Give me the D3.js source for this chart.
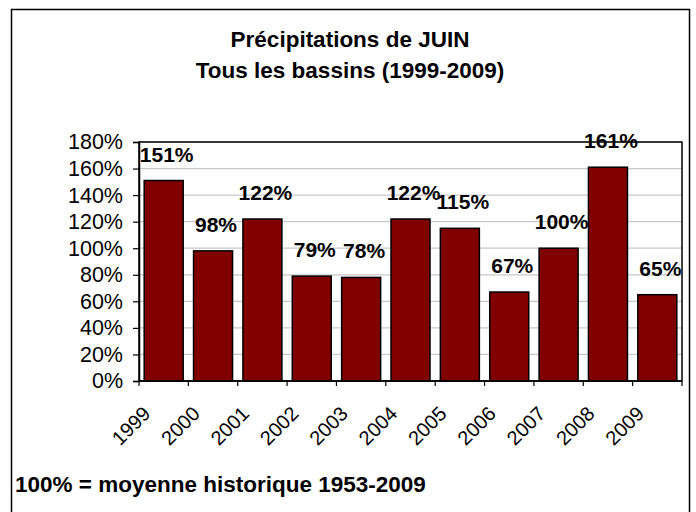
<!DOCTYPE html>
<html>
<head>
<meta charset="utf-8">
<script src="https://cdn.jsdelivr.net/npm/d3@7"></script>
<style>
  body { margin: 0; background: #fff; }
  text { font-family: Arial, "Liberation Sans", sans-serif; }
</style>
</head>
<body>
<div class="content"></div>
<script>
// data
var years = ["1999", "2000", "2001", "2002", "2003", "2004", "2005", "2006", "2007", "2008", "2009"];
var pct = [151, 98, 122, 79, 78, 122, 115, 67, 100, 161, 65];
var yTicks = [0, 20, 40, 60, 80, 100, 120, 140, 160, 180];
var titleLines = ["Précipitations de JUIN", "Tous les bassins (1999-2009)"];
var note = "100% = moyenne historique 1953-2009";

var W = 696, H = 512;
var plot = {left: 139, right: 682, top: 142, bottom: 381};

var svg = d3.select('.content').append("svg").attr("width", W).attr("height", H);

// outer frame
svg.append("rect").attr("x", 11.5).attr("y", 9.5).attr("width", 678).attr("height", 520)
  .attr("fill", "#fff").attr("stroke", "#000").attr("stroke-width", 1.5);

var x = d3.scaleBand().domain(years).range([plot.left, plot.right]).paddingInner(0.21).paddingOuter(0.105);
var y = d3.scaleLinear().domain([0, 180]).range([plot.bottom, plot.top]);

// gridlines
svg.append("g").selectAll("line").data(yTicks.slice(1)).enter().append("line")
  .attr("x1", plot.left).attr("x2", plot.right)
  .attr("y1", function(d){ return y(d); }).attr("y2", function(d){ return y(d); })
  .attr("stroke", "#c8c8c8").attr("stroke-width", 1.2);

// plot frame
svg.append("rect").attr("x", plot.left).attr("y", plot.top)
  .attr("width", plot.right - plot.left).attr("height", plot.bottom - plot.top)
  .attr("fill", "none").attr("stroke", "#000").attr("stroke-width", 1.5);

// y axis
var ya = svg.append("g").attr("transform", "translate(" + plot.left + ",0)")
  .call(d3.axisLeft(y).tickValues(yTicks).tickSize(6).tickPadding(10).tickFormat(function(d){ return d + "%"; }));
ya.select(".domain").attr("stroke", "#000").attr("stroke-width", 1.5);
ya.selectAll(".tick line").attr("stroke", "#000").attr("stroke-width", 1.2);
ya.selectAll("text").attr("font-size", 21.5).attr("font-family", "Arial, 'Liberation Sans', sans-serif").attr("fill", "#000");

// bars
svg.append("g").selectAll("rect").data(pct).enter().append("rect")
  .attr("x", function(d, i){ return x(years[i]); })
  .attr("y", function(d){ return y(d); })
  .attr("width", x.bandwidth())
  .attr("height", function(d){ return y(0) - y(d); })
  .attr("fill", "#800000").attr("stroke", "#000").attr("stroke-width", 1.5);

// value labels
svg.append("g").selectAll("text").data(pct).enter().append("text")
  .attr("x", function(d, i){ return x(years[i]) + x.bandwidth() / 2 + 3; })
  .attr("y", function(d){ return y(d) - 19; })
  .attr("text-anchor", "middle").attr("font-size", 21).attr("font-weight", "bold")
  .text(function(d){ return d + "%"; });

// x axis line and category ticks
svg.append("line").attr("x1", plot.left).attr("x2", plot.right)
  .attr("y1", plot.bottom).attr("y2", plot.bottom).attr("stroke", "#000").attr("stroke-width", 1.5);
svg.append("g").selectAll("line").data(d3.range(years.length + 1)).enter().append("line")
  .attr("x1", function(i){ return plot.left + i * x.step(); })
  .attr("x2", function(i){ return plot.left + i * x.step(); })
  .attr("y1", plot.bottom).attr("y2", plot.bottom + 5)
  .attr("stroke", "#000").attr("stroke-width", 1.2);

svg.append("g").selectAll("text").data(years).enter().append("text")
  .attr("transform", function(d){ return "translate(" + (x(d) + x.bandwidth() / 2 - 12) + "," + (plot.bottom + 34) + ") rotate(-45)"; })
  .attr("text-anchor", "end").attr("font-size", 20)
  .text(function(d){ return d; });

// title
svg.append("g").selectAll("text").data(titleLines).enter().append("text")
  .attr("x", 350).attr("y", function(d, i){ return 47 + i * 31; })
  .attr("text-anchor", "middle").attr("font-size", 22.5).attr("font-weight", "bold")
  .text(function(d){ return d; });

// footnote
svg.append("text").attr("x", 15).attr("y", 492)
  .attr("font-size", 22.5).attr("font-weight", "bold")
  .text(note);
</script>
</body>
</html>
